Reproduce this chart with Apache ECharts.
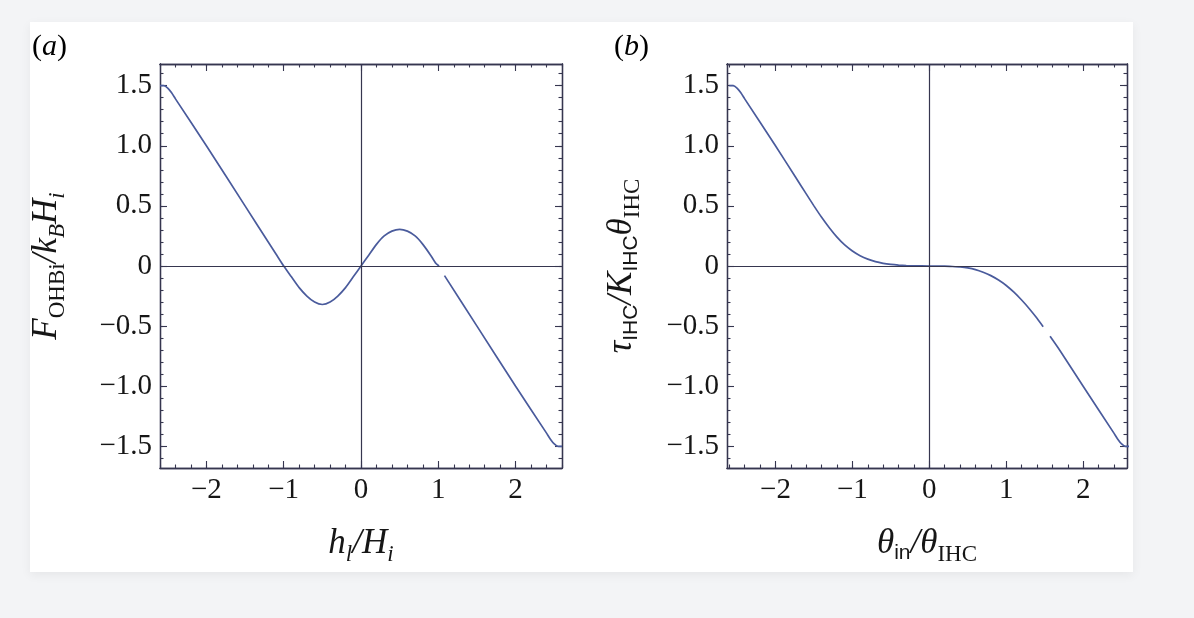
<!DOCTYPE html>
<html><head><meta charset="utf-8">
<script src="https://cdn.jsdelivr.net/npm/echarts@6/dist/echarts.min.js"></script>
<style>
html,body{margin:0;padding:0;background:#f3f4f6;width:1194px;height:618px;overflow:hidden}
#card{position:absolute;left:30px;top:22px;width:1103px;height:550px;background:#fff;box-shadow:0 3px 10px rgba(0,0,0,0.06)}
#chart{position:absolute;left:0;top:0;width:1194px;height:618px}
</style></head><body><div id="card"></div><div id="chart"></div>
<script>
// Panel (a): F_OHBi/k_B H_i vs h_l/H_i  (null = gap in the drawn curve)
const aX = [-2.6,-2.55,-2.5,-2.45,-2.4,-2.0,-1.5,-1.2,-1.1,-1.0,-0.9,-0.8,-0.7,-0.6,-0.5,-0.4,-0.3,-0.2,-0.1,0,0.1,0.2,0.3,0.4,0.5,0.6,0.7,0.8,0.9,0.97,1.01,1.04,1.08,1.5,2.0,2.4,2.45,2.5,2.55,2.6];
const aY = [1.5,1.5,1.48,1.44,1.39,1.0,0.5,0.2,0.1,0.0,-0.09,-0.18,-0.25,-0.3,-0.32,-0.3,-0.25,-0.18,-0.09,0,0.09,0.18,0.25,0.29,0.305,0.29,0.25,0.18,0.09,0.02,0.0,null,-0.08,-0.5,-1.0,-1.39,-1.44,-1.48,-1.5,-1.5];
// Panel (b): tau_IHC/K_IHC theta_IHC vs theta_in/theta_IHC
const bX = [-2.6,-2.55,-2.5,-2.45,-2.4,-2.0,-1.74,-1.6,-1.5,-1.4,-1.3,-1.2,-1.1,-1.0,-0.9,-0.8,-0.7,-0.6,-0.5,-0.4,-0.3,-0.2,0,0.2,0.3,0.4,0.5,0.6,0.7,0.8,0.9,1.0,1.1,1.2,1.3,1.4,1.48,1.52,1.57,1.7,2.0,2.4,2.45,2.5,2.55,2.6];
const bY = [1.5,1.5,1.48,1.44,1.39,1.0,0.74,0.6,0.5,0.405,0.318,0.24,0.175,0.125,0.086,0.057,0.036,0.022,0.013,0.007,0.003,0.001,0,-0.001,-0.004,-0.008,-0.016,-0.03,-0.052,-0.08,-0.117,-0.162,-0.218,-0.283,-0.355,-0.435,-0.505,null,-0.585,-0.705,-1.0,-1.39,-1.44,-1.48,-1.5,-1.5];

// Tick values
const xMajor = [-2,-1,0,1,2];
const xMinor = [-2.6,-2.4,-2.2,-2,-1.8,-1.6,-1.4,-1.2,-1,-0.8,-0.6,-0.4,-0.2,0,0.2,0.4,0.6,0.8,1,1.2,1.4,1.6,1.8,2,2.2,2.4,2.6];
const yMajor = [-1.5,-1.0,-0.5,0,0.5,1.0,1.5];
const yMinor = [-1.6,-1.5,-1.4,-1.3,-1.2,-1.1,-1.0,-0.9,-0.8,-0.7,-0.6,-0.5,-0.4,-0.3,-0.2,-0.1,0,0.1,0.2,0.3,0.4,0.5,0.6,0.7,0.8,0.9,1.0,1.1,1.2,1.3,1.4,1.5,1.6];

const panelLabels = ['a','b'];

const frameColor = '#36364f';
const curveColor = '#4a5b9c';
const serif = 'Liberation Serif';
const ink = '#161616';

const rich = {
  i:{fontFamily:serif,fontStyle:'italic',fontSize:35,lineHeight:48,color:ink,verticalAlign:'middle'},
  sub:{fontFamily:serif,fontSize:23,lineHeight:24,color:ink,verticalAlign:'top',padding:[23,0,0,0]},
  isub:{fontFamily:serif,fontStyle:'italic',fontSize:23,lineHeight:24,color:ink,verticalAlign:'top',padding:[23,0,0,0]},
  ssub:{fontFamily:'Liberation Sans',fontSize:21,lineHeight:24,color:ink,verticalAlign:'top',padding:[23,0,0,0]}
};
const richLab = {
  r:{fontFamily:serif,fontSize:30,lineHeight:34,color:ink},
  i:{fontFamily:serif,fontStyle:'italic',fontSize:30,lineHeight:34,color:ink}
};

function fmtY(v){ if (Math.abs(v) < 1e-9) return '0'; return v.toFixed(1).replace('-','\u2212'); }
function fmtX(v){ return String(Math.round(v)).replace('-','\u2212'); }

function axis(g, min, max, position, vals, len, labelCfg, nameCfg){
  const o = {
    type:'value', gridIndex:g, min:min, max:max, position:position,
    axisLine:{show:true,onZero:false,lineStyle:{color:frameColor,width:1.3}},
    axisTick:{show:true,inside:true,length:len,customValues:vals,lineStyle:{color:frameColor,width:1.1}},
    axisLabel:{show:false},
    splitLine:{show:false}, minorTick:{show:false}
  };
  if (labelCfg) o.axisLabel = labelCfg;
  if (nameCfg) Object.assign(o, nameCfg);
  return o;
}

const xRanges = [[-2.6,2.6],[-2.63,2.57]];
const yRange = [-1.68,1.68];
const xNames = ['{i|h}{isub|l}{i|/H}{isub|i}', '{i|\u03b8}{ssub|in}{i|/\u03b8}{sub|IHC}'];
const yNames = ['{i|F}{sub|OHBi}{i|/k}{isub|B}{i|H}{isub|i}', '{i|\u03c4}{ssub|IHC}{i|/K}{ssub|IHC}{i|\u03b8}{sub|IHC}'];
const yNameGap = [89, 81];

const xAxes = [], yAxes = [], series = [];
[0,1].forEach(g=>{
  const [x0,x1] = xRanges[g];
  const xi = xAxes.length, yi = yAxes.length;
  xAxes.push(axis(g,x0,x1,'bottom',xMajor,7,
    {show:true,customValues:xMajor,formatter:fmtX,fontFamily:serif,fontSize:29,color:ink,margin:8},
    {name:xNames[g],nameLocation:'middle',nameGap:52,nameTextStyle:{rich:rich}}));
  xAxes.push(axis(g,x0,x1,'bottom',xMinor,3.5));
  xAxes.push(axis(g,x0,x1,'top',xMajor,7));
  xAxes.push(axis(g,x0,x1,'top',xMinor,3.5));
  yAxes.push(axis(g,yRange[0],yRange[1],'left',yMajor,7,
    {show:true,customValues:yMajor,formatter:fmtY,fontFamily:serif,fontSize:29,color:ink,margin:8},
    {name:yNames[g],nameLocation:'middle',nameRotate:90,nameGap:yNameGap[g],nameTextStyle:{rich:rich}}));
  yAxes.push(axis(g,yRange[0],yRange[1],'left',yMinor,3.5));
  yAxes.push(axis(g,yRange[0],yRange[1],'right',yMajor,7));
  yAxes.push(axis(g,yRange[0],yRange[1],'right',yMinor,3.5));
  const X = g===0 ? aX : bX, Y = g===0 ? aY : bY;
  series.push({
    type:'line', xAxisIndex:xi, yAxisIndex:yi,
    data:X.map((x,i)=>[x,Y[i]]), showSymbol:false, smooth:0.2, connectNulls:false,
    lineStyle:{color:curveColor,width:1.7}, animation:false, silent:true,
    markLine:{silent:true,symbol:['none','none'],label:{show:false},animation:false,
      lineStyle:{color:frameColor,width:1.2,type:'solid'},
      data:[{xAxis:0},{yAxis:0}]},
    z:3
  });
});

const chart = echarts.init(document.getElementById('chart'), null, {renderer:'canvas'});
chart.setOption({
  backgroundColor:'transparent',
  animation:false,
  grid:[
    {left:160, top:64, width:402, height:404},
    {left:727, top:64, width:400, height:404}
  ],
  xAxis:xAxes, yAxis:yAxes, series:series,
  graphic:[
    {type:'text', left:32, top:32, style:{text:'{r|(}{i|' + panelLabels[0] + '}{r|)}', rich:richLab}},
    {type:'text', left:614, top:32, style:{text:'{r|(}{i|' + panelLabels[1] + '}{r|)}', rich:richLab}}
  ]
});
</script></body></html>
